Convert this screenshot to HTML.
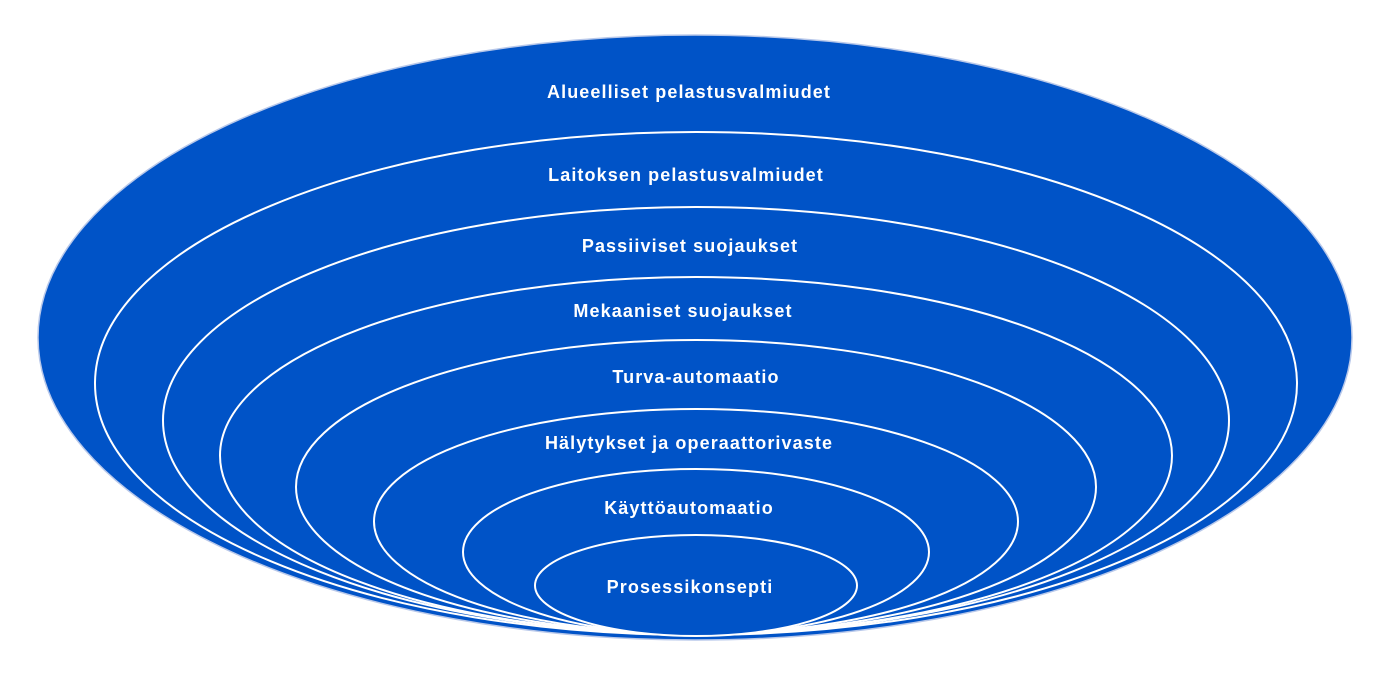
<!DOCTYPE html>
<html><head><meta charset="utf-8"><style>
html,body{margin:0;padding:0;background:#fff;}
svg{display:block}
text{font-family:"Liberation Sans",sans-serif;font-weight:bold;font-size:18px;letter-spacing:1.1px;fill:#fff;text-anchor:middle}
</style></head><body>
<svg width="1378" height="678" viewBox="0 0 1378 678">
<ellipse cx="695" cy="337.5" rx="657" ry="302.5" fill="#0053c7" stroke="#b8c8ea" stroke-width="1.5"/>
<g fill="#0053c7" stroke="#fff" stroke-width="2">
<ellipse cx="696" cy="383.5" rx="601" ry="251.5"/>
<ellipse cx="696" cy="420.5" rx="533" ry="213.5"/>
<ellipse cx="696" cy="455.5" rx="476" ry="178.5"/>
<ellipse cx="696" cy="487" rx="400" ry="147"/>
<ellipse cx="696" cy="521.5" rx="322" ry="112.5"/>
<ellipse cx="696" cy="552" rx="233" ry="83"/>
<ellipse cx="696" cy="585.5" rx="161" ry="50.5"/>
</g>
<text x="689" y="98">Alueelliset pelastusvalmiudet</text>
<text x="686" y="181">Laitoksen pelastusvalmiudet</text>
<text x="690" y="252">Passiiviset suojaukset</text>
<text x="683" y="317">Mekaaniset suojaukset</text>
<text x="696" y="383">Turva-automaatio</text>
<text x="689" y="449">Hälytykset ja operaattorivaste</text>
<text x="689" y="514">Käyttöautomaatio</text>
<text x="690" y="593">Prosessikonsepti</text>
</svg>
</body></html>
